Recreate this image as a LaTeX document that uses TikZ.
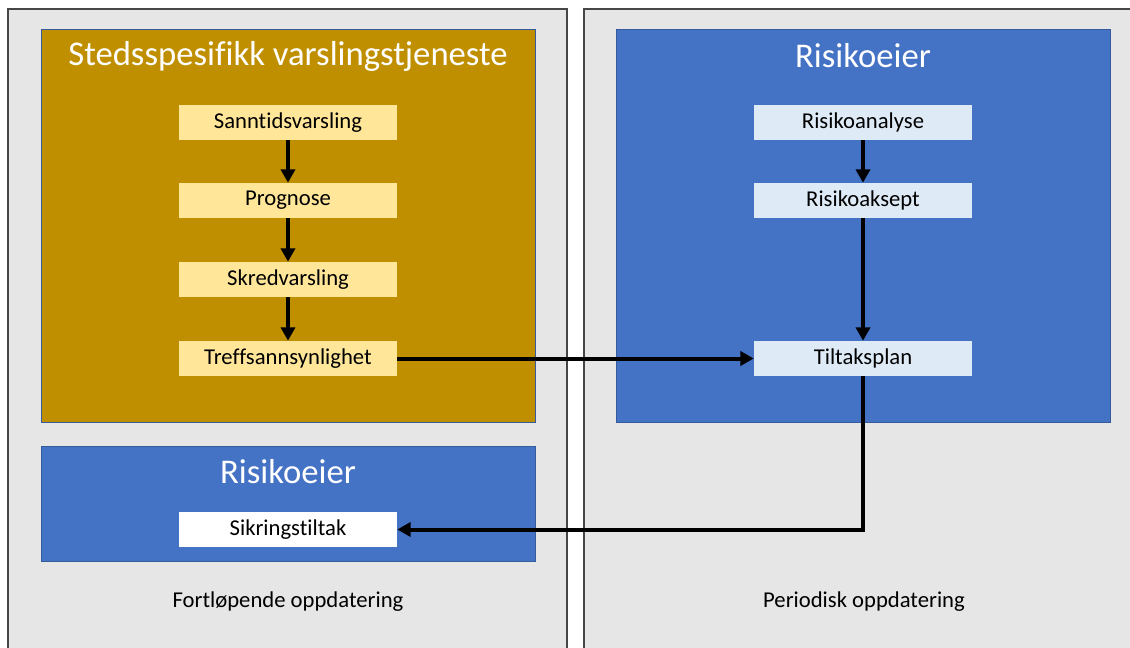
\documentclass[tikz,border=0pt]{standalone}
\usepackage{fontspec}
\setmainfont[Ligatures=NoCommon]{Carlito}
\usetikzlibrary{arrows.meta}
\definecolor{panelgray}{RGB}{231,230,230}
\definecolor{edgegray}{RGB}{70,70,70}
\definecolor{gold}{RGB}{191,143,0}
\definecolor{lightgold}{RGB}{255,230,153}
\definecolor{officeblue}{RGB}{68,114,196}
\definecolor{lightblue}{RGB}{222,235,247}
\begin{document}
\begin{tikzpicture}
  [x=0.75pt,y=-0.75pt,
   group/.style={draw=officeblue!80!black,line width=0.6pt},
   title/.style={text=white,font=\fontsize{26}{30}\selectfont},
   task/.style={rectangle,minimum width=163.5pt,minimum height=26.25pt,inner sep=0pt,
     font=\fontsize{17}{20}\selectfont},
   note/.style={font=\fontsize{17}{20}\selectfont},
   flow/.style={line width=3pt,-{Triangle[length=10pt,width=10.5pt]}}]
  \useasboundingbox (0,0) rectangle (1130,648);

  % two background panels
  \fill[panelgray] (8,9) rectangle (567,648);
  \fill[panelgray] (584,9) rectangle (1130,648);
  \draw[edgegray,line width=1.2pt] (8,648) -- (8,9) -- (567,9) -- (567,648);
  \draw[edgegray,line width=1.2pt] (584,648) -- (584,9) -- (1130,9);

  % coloured groups
  \filldraw[group,fill=gold] (41,29) rectangle (535,422);
  \filldraw[group,fill=officeblue] (616,29) rectangle (1110,422);
  \filldraw[group,fill=officeblue] (41,446) rectangle (535,561);

  \node[title] (t1) at (288,56) {Stedsspesifikk varslingstjeneste};
  \node[title] (t2) at (863,56) {Risikoeier};
  \node[title] (t3) at (288,472) {Risikoeier};

  \node[task,fill=lightgold] (sann)  at (288,122.5) {Sanntidsvarsling};
  \node[task,fill=lightgold] (prog)  at (288,200.5) {Prognose};
  \node[task,fill=lightgold] (skred) at (288,279.5) {Skredvarsling};
  \node[task,fill=lightgold] (treff) at (288,358.5) {Treffsannsynlighet};

  \node[task,fill=lightblue] (analyse) at (863,122.5) {Risikoanalyse};
  \node[task,fill=lightblue] (aksept)  at (863,200.5) {Risikoaksept};
  \node[task,fill=lightblue] (plan)    at (863,358.5) {Tiltaksplan};

  \node[task,fill=white] (sikring) at (288,529.5) {Sikringstiltak};

  \node[note] (n1) at (288,602) {Fortløpende oppdatering};
  \node[note] (n2) at (864,602) {Periodisk oppdatering};

  \foreach \from/\to in {sann/prog,prog/skred,skred/treff,analyse/aksept,aksept/plan,treff/plan}
    \draw[flow] (\from) -- (\to);
  \draw[flow] (plan.south) |- (sikring.east);
\end{tikzpicture}
\end{document}
